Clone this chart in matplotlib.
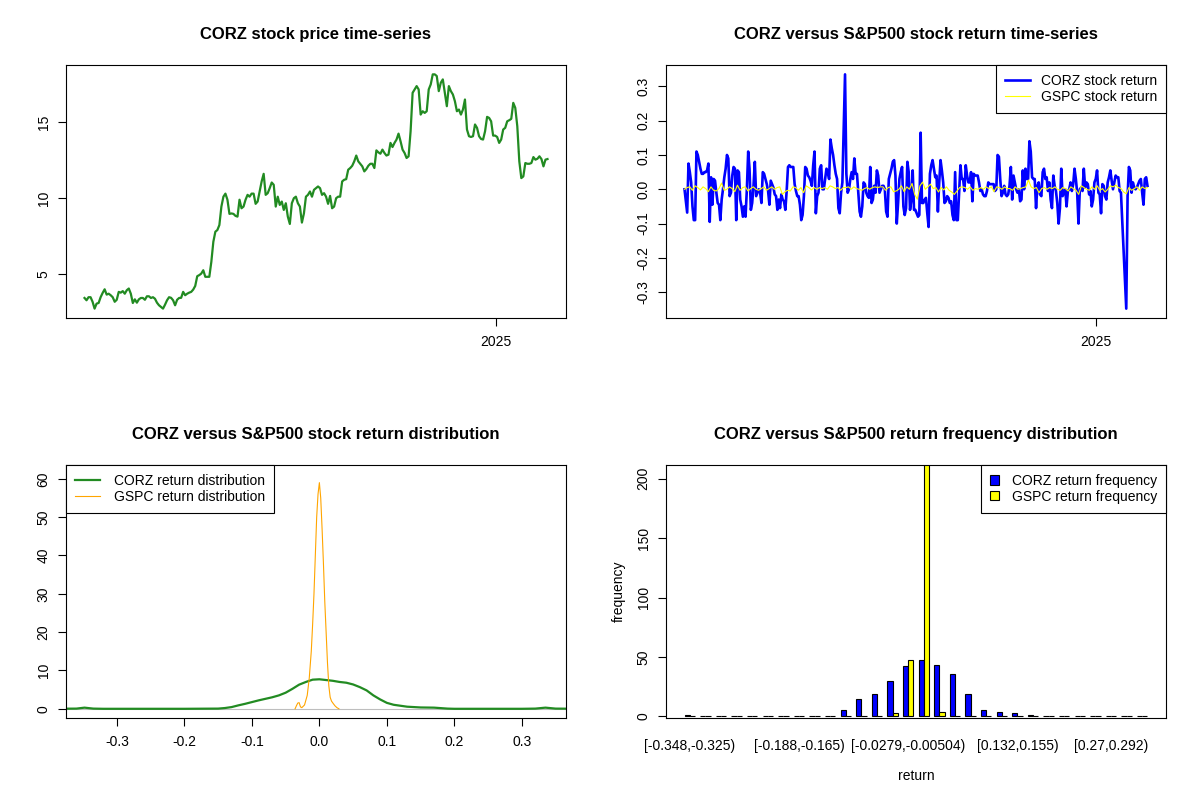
import numpy as np
import pandas as pd
import matplotlib
matplotlib.use("Agg")
import matplotlib.pyplot as plt
from matplotlib.patches import Patch

plt.rcParams['font.family'] = ['Liberation Sans', 'DejaVu Sans']
plt.rcParams['font.size'] = 10

# ---- data ----
start_date, end_date = '2024-01-24', '2025-02-13'

corz_price = [3.45, 3.3, 3.5, 3.5, 3.2, 2.75, 3.08, 3.12, 3.5, 3.78, 4.02, 3.67, 3.73, 3.63, 3.5,
              3.2, 3.33, 3.85, 3.8, 3.9, 3.73, 3.96, 4.07, 3.73, 3.12, 3.36, 3.14, 3.36, 3.45, 3.45,
              3.33, 3.56, 3.56, 3.45, 3.5, 3.4, 3.14, 2.97, 2.86, 2.75, 3.01, 3.3, 3.5, 3.46, 3.3,
              2.97, 3.33, 3.45, 3.46, 3.85, 3.63, 3.73, 3.8, 3.85, 4.0, 4.24, 4.88, 4.95, 5.05, 5.27,
              4.84, 4.84, 4.84, 5.82, 7.14, 7.8, 7.91, 8.24, 9.45, 10.1, 10.3, 9.9, 8.97, 9.0, 8.97,
              8.84, 8.79, 9.9, 9.34, 9.45, 9.9, 10.22, 10.1, 10.3, 10.3, 9.63, 9.78, 10.44, 11.1, 11.6,
              10.22, 10.33, 10.66, 11.03, 10.88, 9.45, 10.1, 9.56, 9.78, 9.23, 9.67, 8.79, 8.31, 9.67, 10.0,
              10.1, 9.67, 9.45, 8.4, 9.0, 10.1, 10.22, 10.44, 10.1, 10.55, 10.66, 10.77, 10.66, 10.22, 10.33,
              10.1, 9.63, 10.15, 9.34, 9.45, 10.0, 10.1, 10.1, 11.1, 11.21, 11.25, 11.87, 11.98, 12.13, 12.42,
              12.8, 12.42, 12.26, 12.09, 11.76, 11.91, 12.13, 12.26, 12.26, 11.98, 13.14, 13.01, 12.92, 13.19, 12.97,
              12.8, 12.86, 13.63, 13.36, 13.63, 13.85, 14.24, 13.74, 13.19, 12.97, 12.64, 12.75, 14.4, 16.92, 17.14,
              17.36, 17.14, 15.49, 15.71, 15.6, 15.71, 17.14, 17.47, 18.13, 18.13, 18.02, 17.03, 17.58, 17.8, 16.92,
              16.04, 17.36, 17.03, 16.81, 16.37, 15.71, 15.82, 15.49, 15.82, 16.48, 14.51, 14.07, 14.02, 14.07, 14.84,
              14.62, 14.07, 13.89, 13.85, 14.4, 15.34, 15.27, 15.05, 14.11, 14.11, 14.02, 13.63, 13.85, 14.51, 14.62,
              15.05, 15.12, 15.21, 16.26, 15.93, 14.73, 12.42, 11.32, 11.43, 12.31, 12.26, 12.26, 12.31, 12.7, 12.53,
              12.59, 12.75, 12.57, 12.09, 12.53, 12.57]

corz_ret = [0.0, -0.035, -0.068, 0.075, 0.05, 0.02, -0.05, -0.09, -0.09, 0.11, 0.1, 0.08, 0.06, 0.045, 0.045,
            0.05, 0.05, 0.055, 0.075, -0.095, 0.035, -0.045, 0.03, 0.025, -0.01, -0.04, -0.045, -0.09, -0.03, 0.0,
            0.035, 0.06, 0.1, 0.09, -0.02, -0.01, 0.04, 0.065, 0.06, -0.09, 0.055, 0.05, -0.03, -0.05, -0.08,
            -0.05, -0.08, 0.0, 0.11, 0.06, -0.06, -0.04, 0.01, 0.08, -0.02, -0.01, 0.0, -0.01, -0.04, 0.05,
            0.045, 0.03, 0.015, -0.005, -0.045, 0.025, 0.015, 0.005, -0.015, -0.02, -0.06, -0.03, -0.055, -0.015, -0.03,
            -0.035, -0.06, -0.005, 0.065, 0.07, 0.065, 0.065, 0.065, 0.015, -0.005, -0.02, -0.02, -0.045, -0.09, -0.075,
            -0.02, 0.065, 0.06, 0.04, 0.035, 0.025, 0.01, 0.07, 0.11, -0.07, -0.02, -0.01, 0.06, 0.07, 0.0,
            0.0, 0.03, 0.06, 0.05, 0.03, 0.145, 0.12, 0.1, 0.07, 0.045, 0.03, -0.055, -0.07,
            -0.01, 0.02, 0.18, 0.335, 0.045, -0.01, 0.0, 0.03, 0.05, 0.03, 0.09, 0.045, 0.045, -0.01, -0.065,
            -0.08, -0.05, 0.02, 0.015, -0.01, -0.02, -0.025, 0.065, -0.04, -0.03, 0.01, -0.01, 0.055, 0.04, -0.01,
            0.0, 0.01, 0.01, 0.0, -0.065, -0.08, 0.03, 0.045, 0.06, 0.08, 0.085, 0.04, -0.1, -0.04, 0.03,
            0.05, 0.065, -0.05, -0.075, -0.055, 0.08, 0.05, -0.06, -0.03, 0.055, -0.06, -0.06, -0.07, -0.08, -0.075,
            0.165, -0.04, -0.04, -0.03, -0.025, -0.07, -0.11, 0.045, 0.07, 0.085, 0.06, 0.035, 0.04, -0.065, 0.02,
            0.085, 0.055, 0.02, -0.04, -0.035, -0.02, -0.025, -0.04, -0.035, -0.075, -0.09, 0.05, -0.09, -0.09, -0.01,
            0.07, 0.03, 0.03, -0.005, 0.07, 0.04, 0.02, 0.02, 0.05, -0.035, 0.045, 0.04, 0.04, 0.04, 0.02,
            -0.005, 0.0, -0.015, -0.02, -0.02, -0.005, 0.02, 0.015, 0.015, 0.015, 0.015, -0.005, 0.0, 0.1, 0.095,
            0.03, -0.02, -0.01, 0.01, -0.015, -0.02, -0.015, 0.01, 0.065,
            -0.03, 0.04, 0.02, 0.0, -0.01, 0.0, -0.035, -0.03, 0.055, 0.0, 0.06, 0.03, 0.03, 0.14, 0.11,
            0.035, 0.03, 0.03, -0.055, 0.01, 0.02, -0.015, -0.02, 0.05, 0.06, 0.03, 0.035, -0.005, 0.02, -0.03,
            -0.055, 0.04, 0.01, -0.005, -0.04, -0.1, -0.055, 0.06, -0.02, -0.01, 0.0, -0.05, -0.005, 0.0, 0.02,
            -0.005, 0.015, 0.06, 0.03, -0.01, -0.1, 0.0, 0.005, -0.005, 0.06, 0.005, 0.02, 0.015, -0.015, -0.005,
            -0.05, -0.03, 0.02, 0.03, 0.055, -0.01, -0.015, -0.07, 0.015, 0.01, -0.02, -0.03, 0.02, 0.035, 0.055,
            0.025, 0.0, 0.02, 0.04, 0.035, 0.035, -0.005, -0.01, -0.095, -0.18, -0.265, -0.348, -0.02, 0.065, 0.055,
            -0.01, 0.02, 0.005, 0.0, 0.005, 0.015, 0.025, 0.03, -0.01, -0.045, 0.03, 0.035, 0.01]

gspc_ret = [0.0, 0.005, 0.007, -0.003, 0.01, 0.005, -0.002, 0.007, 0.002, -0.007, 0.007, -0.003, -0.005, 0.002, 0.018,
            -0.003, 0.0, 0.007, 0.002, -0.007, 0.012, -0.003, 0.005, 0.007, -0.005, 0.002, 0.007, 0.0, -0.003, 0.002,
            0.007, -0.003, 0.002, 0.007, 0.0, 0.005, 0.007, -0.015, -0.007, -0.003, -0.005, 0.007, 0.005, -0.003, 0.005,
            -0.01, 0.01, 0.005, -0.002, 0.005, 0.0, 0.005, 0.002, 0.005, 0.0, 0.01, 0.007, 0.002, 0.005, -0.003,
            0.005, 0.005, 0.007, 0.0, 0.007, 0.002, 0.0, -0.003, 0.002, 0.005, 0.0, 0.005, 0.007, 0.005, 0.007,
            0.007, -0.003, 0.005, 0.007, -0.007, -0.005, 0.0, 0.01, -0.007, 0.007, 0.0, 0.017, -0.015, -0.029, 0.01,
            0.021, 0.0, 0.007, 0.015, 0.002, 0.005, -0.008, 0.005, -0.002, 0.007, -0.003, -0.008, -0.015, -0.005, 0.005,
            0.007, 0.005, 0.0, 0.007, -0.003, 0.002, 0.0, 0.005, 0.0, 0.007, 0.002, 0.007, -0.007, 0.007, 0.005,
            0.0, 0.007, 0.002,
            0.002, -0.003, 0.007, 0.0, 0.002, 0.005, 0.007, 0.027, 0.007, 0.002, 0.005, -0.01, 0.002, 0.005, 0.0,
            0.005, 0.002, 0.007, 0.0, -0.003, 0.005, 0.002, -0.005, 0.007, 0.002, -0.003, -0.015, 0.01, 0.005, 0.0,
            -0.003, 0.007, 0.0, 0.01, -0.003, 0.002, -0.008, 0.0, 0.01, 0.007, 0.012, 0.005, 0.002, -0.008, -0.013,
            0.005, -0.003, 0.002, 0.007, -0.003, 0.007, 0.002, 0.005]

# density curves (x, y)
corz_dens_x = [-0.40, -0.36, -0.348, -0.335, -0.32, -0.2, -0.15, -0.14, -0.13, -0.12, -0.11, -0.1, -0.09, -0.08,
               -0.07, -0.06, -0.05, -0.04, -0.03, -0.02, -0.01, 0.0, 0.01, 0.02, 0.03, 0.04, 0.05, 0.06,
               0.07, 0.08, 0.09, 0.1, 0.11, 0.12, 0.13, 0.15, 0.17, 0.19, 0.2, 0.3, 0.32, 0.335, 0.35, 0.39]
corz_dens_y = [0.0, 0.05, 0.3, 0.05, 0.0, 0.0, 0.05, 0.2, 0.45, 0.9, 1.3, 1.75, 2.2, 2.6,
               3.0, 3.5, 4.2, 5.2, 6.3, 7.0, 7.6, 7.7, 7.5, 7.3, 7.0, 6.8, 6.35, 5.65,
               4.8, 3.5, 2.45, 1.55, 1.05, 0.8, 0.55, 0.35, 0.3, 0.05, 0.0, 0.0, 0.05, 0.3, 0.05, 0.0]
gspc_dens_x = [-0.036, -0.034, -0.032, -0.03, -0.028, -0.026, -0.022, -0.018, -0.015, -0.012, -0.01, -0.008,
               -0.006, -0.004, -0.002, 0.0, 0.002, 0.004, 0.006, 0.008, 0.01, 0.012, 0.014, 0.016, 0.018,
               0.02, 0.023, 0.026, 0.029]
gspc_dens_y = [0.0, 0.8, 1.5, 1.6, 0.5, 0.3, 1.0, 3.5, 8.0, 15.0, 22.0, 30.0,
               40.0, 50.0, 56.0, 59.0, 55.0, 47.0, 38.0, 28.0, 20.0, 12.0, 6.0, 3.0, 2.0,
               1.5, 0.8, 0.3, 0.0]

# return frequency table, 30 bins of width ~0.0229 starting at -0.348
corz_freq = [1, 0, 0, 0, 0, 0, 0, 0, 0, 0, 5, 15, 19, 30, 42, 47, 43, 36, 19, 5,
             4, 3, 1, 0, 0, 0, 0, 0, 0, 0]
gspc_freq = [0, 0, 0, 0, 0, 0, 0, 0, 0, 0, 0, 0, 0, 3, 47, 215, 4, 0, 0, 0,
             0, 0, 0, 0, 0, 0, 0, 0, 0, 0]
bin_label_idx = [0, 7, 14, 21, 27]
bin_labels = ['[-0.348,-0.325)', '[-0.188,-0.165)', '[-0.0279,-0.00504)', '[0.132,0.155)', '[0.27,0.292)']

# ---- figure ----
W, H = 1200, 800
fig = plt.figure(figsize=(12, 8), dpi=100)


def panel(x0, y0):
    # x0,y0: pixel coords of top-left corner of the plot box
    ax = fig.add_axes([x0 / W, 1 - (y0 + 253) / H, 500 / W, 253 / H])
    for s in ax.spines.values():
        s.set_linewidth(0.8)
    ax.tick_params(direction='out', length=6, width=0.8, labelsize=10)
    ax.tick_params(axis='x', pad=6)
    ax.tick_params(axis='y', pad=5)
    return ax


def rot_y(ax):
    plt.setp(ax.get_yticklabels(), rotation=90, va='center')


def r_legend(ax, **kw):
    leg = ax.legend(frameon=True, fancybox=False, edgecolor='black', framealpha=1,
                    borderaxespad=0, fontsize=10, labelspacing=0.13, borderpad=0.64, **kw)
    leg.get_frame().set_linewidth(0.8)
    return leg


def pad_lim(a, b, f=0.04):
    r = b - a
    return a - f * r, b + f * r


tick2025 = pd.Timestamp('2025-01-01')

# top-left: price
ax1 = panel(66, 65)
d_price = pd.date_range(start_date, end_date, periods=len(corz_price))
ax1.plot(d_price, corz_price, color='#228B22', lw=1.6)
ax1.set_xlim(*pad_lim(d_price[0], d_price[-1]))
ax1.set_ylim(*pad_lim(min(corz_price), max(corz_price)))
ax1.set_xticks([tick2025])
ax1.set_xticklabels(['2025'])
ax1.set_yticks([5, 10, 15])
rot_y(ax1)
ax1.set_title('CORZ stock price time-series', fontsize=12, fontweight='bold', pad=18.5)

# top-right: returns
ax2 = panel(666, 65)
d_corz = pd.date_range(start_date, end_date, periods=len(corz_ret))
d_gspc = pd.date_range(start_date, end_date, periods=len(gspc_ret))
ax2.plot(d_corz, corz_ret, color='#0000FF', lw=1.9, label='CORZ stock return')
ax2.plot(d_gspc, gspc_ret, color='#FFFF00', lw=0.8, label='GSPC stock return')
ax2.set_xlim(*pad_lim(d_corz[0], d_corz[-1]))
ax2.set_ylim(*pad_lim(min(corz_ret), max(corz_ret)))
ax2.set_xticks([tick2025])
ax2.set_xticklabels(['2025'])
rt = [-0.3, -0.2, -0.1, 0.0, 0.1, 0.2, 0.3]
ax2.set_yticks(rt)
ax2.set_yticklabels([f'{v:.1f}' for v in rt])
rot_y(ax2)
ax2.set_title('CORZ versus S&P500 stock return time-series', fontsize=12, fontweight='bold', pad=18.5)
r_legend(ax2, loc='upper right', handlelength=1.8, handletextpad=0.8)

# bottom-left: density
ax3 = panel(66, 465)
ax3.axhline(0, color='#BEBEBE', lw=0.8, zorder=1)
ax3.plot(corz_dens_x, corz_dens_y, color='#228B22', lw=1.6, label='CORZ return distribution', zorder=2)
ax3.plot(gspc_dens_x, gspc_dens_y, color='#FFA500', lw=0.8, label='GSPC return distribution', zorder=3)
ax3.set_xlim(*pad_lim(min(corz_ret), 0.338))
ax3.set_ylim(-2.4, 63.6)
dt = [-0.3, -0.2, -0.1, 0.0, 0.1, 0.2, 0.3]
ax3.set_xticks(dt)
ax3.set_xticklabels([f'{v:.1f}' for v in dt])
ax3.set_yticks([0, 10, 20, 30, 40, 50, 60])
rot_y(ax3)
ax3.set_title('CORZ versus S&P500 stock return distribution', fontsize=12, fontweight='bold', pad=18.5)
r_legend(ax3, loc='upper left', handlelength=1.8, handletextpad=1.0)

# bottom-right: grouped frequency bars
ax4 = panel(666, 465)
grp = np.arange(len(corz_freq)) * 3
ax4.bar(grp + 1.5, corz_freq, width=1, color='#0000FF', edgecolor='black', lw=0.8,
        label='CORZ return frequency')
ax4.bar(grp + 2.5, gspc_freq, width=1, color='#FFFF00', edgecolor='black', lw=0.8,
        label='GSPC return frequency')
ax4.set_xlim(*pad_lim(1, 3 * len(corz_freq)))
ax4.set_ylim(-1.4, 211.5)
ax4.set_xticks([grp[i] + 2 for i in bin_label_idx])
ax4.set_xticklabels(bin_labels)
ax4.tick_params(axis='x', length=0, pad=15)
ax4.set_yticks([0, 50, 100, 150, 200])
rot_y(ax4)
ax4.set_xlabel('return', fontsize=10, labelpad=12)
ax4.set_ylabel('frequency', fontsize=10, labelpad=8)
ax4.set_title('CORZ versus S&P500 return frequency distribution', fontsize=12, fontweight='bold', pad=18.5)
handles = [Patch(facecolor='#0000FF', edgecolor='black', lw=0.8),
           Patch(facecolor='#FFFF00', edgecolor='black', lw=0.8)]
r_legend(ax4, handles=handles, labels=['CORZ return frequency', 'GSPC return frequency'],
         loc='upper right', handlelength=0.65, handleheight=0.65, handletextpad=0.9)

fig.savefig('out.png', dpi=100)
